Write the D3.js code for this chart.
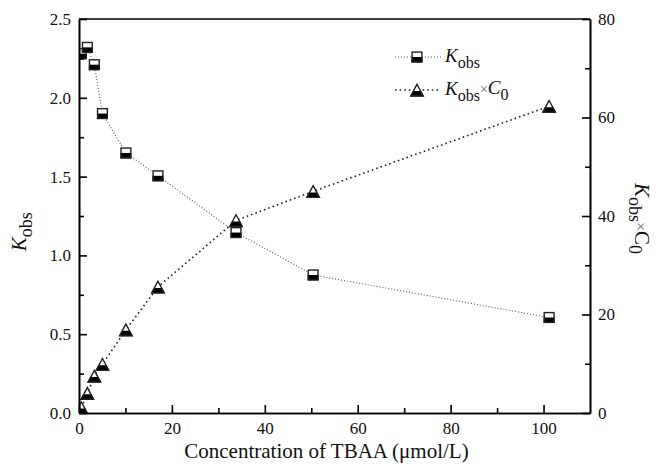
<!DOCTYPE html>
<html>
<head>
<meta charset="utf-8">
<script src="https://cdn.jsdelivr.net/npm/d3@7"></script>
<style>
  body { margin: 0; background: #fff; }
  svg { font-family: "Liberation Serif", "Times New Roman", serif; }
  .axis path, .axis line { stroke: #000; stroke-width: 1.6; }
  .axis text { font-size: 17px; fill: #111; font-family: "Liberation Serif", serif; }
</style>
</head>
<body>
<div id="chart"></div>
<script>
// data
const conc = [0.5, 1.8, 3.3, 5.05, 10.1, 17.0, 33.8, 50.4, 101.2];
const kobs = [2.28, 2.32, 2.21, 1.90, 1.65, 1.505, 1.145, 0.876, 0.606];
const kobsC0 = [1.1, 4.0, 7.5, 9.9, 16.9, 25.6, 39.1, 45.0, 62.3];
const xTicks = [0, 20, 40, 60, 80, 100];
const yLeftTicks = [0, 0.5, 1.0, 1.5, 2.0, 2.5];
const yRightTicks = [0, 20, 40, 60, 80];

const outerWidth = 658, outerHeight = 472;
const margin = {top: 19, left: 79, bottom: 59, right: 68};
const width = outerWidth - margin.left - margin.right;
const height = outerHeight - margin.top - margin.bottom;

const svg = d3.select("#chart").append("svg")
    .attr("width", outerWidth)
    .attr("height", outerHeight)
  .append("g")
    .attr("transform", `translate(${margin.left}, ${margin.top})`);

const xScale = d3.scaleLinear().domain([0, 110]).range([0, width]);
const yLeft = d3.scaleLinear().domain([0, 2.5]).range([height, 0]);
const yRight = d3.scaleLinear().domain([0, 80]).range([height, 0]);

svg.append("clipPath").attr("id", "clip")
  .append("rect").attr("width", width).attr("height", height);

// lines
const line1 = d3.line().x((d, i) => xScale(conc[i])).y(d => yLeft(d));
const line2 = d3.line().x((d, i) => xScale(conc[i])).y(d => yRight(d));

svg.append("path").datum(kobs)
    .attr("d", line1)
    .attr("fill", "none")
    .attr("stroke", "#555")
    .attr("stroke-width", 1.1)
    .attr("stroke-dasharray", "1,2");

svg.append("path").datum(kobsC0)
    .attr("d", line2)
    .attr("fill", "none")
    .attr("stroke", "#222")
    .attr("stroke-width", 1.6)
    .attr("stroke-dasharray", "1.6,3");

// markers: half-filled square and half-filled triangle
function square(g, x, y) {
    const s = 11, h = s / 2;
    g.append("rect").attr("x", x - h).attr("y", y - h).attr("width", s).attr("height", s)
        .attr("fill", "#fff").attr("stroke", "none");
    g.append("rect").attr("x", x - h).attr("y", y).attr("width", s).attr("height", h)
        .attr("fill", "#000");
    g.append("rect").attr("x", x - h + 0.6).attr("y", y - h + 0.6).attr("width", s - 1.2).attr("height", s - 1.2)
        .attr("fill", "none").attr("stroke", "#222").attr("stroke-width", 1.4);
}
function triangle(g, x, y) {
    const h = 13, w = 14;
    const top = y - h / 2, bot = y + h / 2;
    g.append("path")
        .attr("d", `M${x},${top} L${x + w / 2},${bot} L${x - w / 2},${bot} Z`)
        .attr("fill", "#fff");
    const cut = bot - h * 0.42;
    const f = (cut - top) / h;
    g.append("path")
        .attr("d", `M${x - w / 2 * f},${cut} L${x + w / 2 * f},${cut} L${x + w / 2},${bot} L${x - w / 2},${bot} Z`)
        .attr("fill", "#000");
    g.append("path")
        .attr("d", `M${x},${top + 0.8} L${x + w / 2 - 0.7},${bot - 0.5} L${x - w / 2 + 0.7},${bot - 0.5} Z`)
        .attr("fill", "none").attr("stroke", "#222").attr("stroke-width", 1.4)
        .attr("stroke-linejoin", "miter");
}

const marks = svg.append("g").attr("clip-path", "url(#clip)");
kobs.forEach((d, i) => square(marks, xScale(conc[i]), yLeft(d)));
kobsC0.forEach((d, i) => triangle(marks, xScale(conc[i]), yRight(d)));

// axes (ticks pointing inward)
function minors(ticks) {
    const out = [];
    for (let i = 0; i < ticks.length - 1; i++) out.push((ticks[i] + ticks[i + 1]) / 2);
    return out;
}

svg.append("g").attr("class", "axis")
    .attr("transform", `translate(0, ${height})`)
    .call(d3.axisBottom(xScale).tickValues(xTicks).tickSizeInner(-8).tickSizeOuter(0).tickPadding(9)
        .tickFormat(d3.format("d")));
svg.append("g").attr("class", "axis")
    .attr("transform", `translate(0, ${height})`)
    .call(d3.axisBottom(xScale).tickValues(minors(xTicks.concat([120])).filter(d => d < 110))
        .tickSizeInner(-5).tickSizeOuter(0).tickFormat(""));

svg.append("g").attr("class", "axis")
    .call(d3.axisLeft(yLeft).tickValues(yLeftTicks).tickSizeInner(-8).tickSizeOuter(0).tickPadding(8)
        .tickFormat(d3.format(".1f")));
svg.append("g").attr("class", "axis")
    .call(d3.axisLeft(yLeft).tickValues(minors(yLeftTicks)).tickSizeInner(-5).tickSizeOuter(0).tickFormat(""));

svg.append("g").attr("class", "axis")
    .attr("transform", `translate(${width}, 0)`)
    .call(d3.axisRight(yRight).tickValues(yRightTicks).tickSizeInner(-8).tickSizeOuter(0).tickPadding(8)
        .tickFormat(d3.format("d")));
svg.append("g").attr("class", "axis")
    .attr("transform", `translate(${width}, 0)`)
    .call(d3.axisRight(yRight).tickValues(minors(yRightTicks)).tickSizeInner(-5).tickSizeOuter(0).tickFormat(""));

svg.append("line")
    .attr("x1", 0).attr("x2", width).attr("y1", 0).attr("y2", 0)
    .attr("stroke", "#000").attr("stroke-width", 1.6);

svg.selectAll(".axis .domain").attr("stroke-width", 2);

// axis titles
svg.append("text")
    .attr("x", width / 2 - 8).attr("y", height + 45)
    .attr("text-anchor", "middle")
    .attr("font-size", 21)
    .attr("fill", "#111")
    .text("Concentration of TBAA (\u03bcmol/L)");

const yt = svg.append("text")
    .attr("transform", `translate(${-53}, ${yLeft(1.15)}) rotate(-90)`)
    .attr("text-anchor", "middle")
    .attr("font-size", 21)
    .attr("fill", "#111");
yt.append("tspan").attr("font-style", "italic").text("K");
yt.append("tspan").attr("font-size", 18).attr("dy", 6).text("obs");

const yr = svg.append("text")
    .attr("transform", `translate(${width + 45}, ${yRight(39.5)}) rotate(90)`)
    .attr("text-anchor", "middle")
    .attr("font-size", 21)
    .attr("fill", "#111");
yr.append("tspan").attr("font-style", "italic").text("K");
yr.append("tspan").attr("font-size", 18).attr("dy", 6).text("obs");
yr.append("tspan").attr("font-size", 16).attr("fill", "#666").attr("dy", -6).text("\u00d7");
yr.append("tspan").text("C");
yr.append("tspan").attr("font-size", 18).attr("dy", 6).text("0");

// legend
const legend = svg.append("g").attr("transform", `translate(${395 - margin.left}, 0)`);
const rows = [
    {y: 57 - margin.top, stroke: "#555", w: 1.1, dash: "1,2", mark: square, extra: false},
    {y: 90 - margin.top, stroke: "#222", w: 1.6, dash: "1.6,3", mark: triangle, extra: true}
];
rows.forEach(r => {
    legend.append("line")
        .attr("x1", 0).attr("x2", 46).attr("y1", r.y).attr("y2", r.y)
        .attr("stroke", r.stroke).attr("stroke-width", r.w).attr("stroke-dasharray", r.dash);
    r.mark(legend, 22, r.y);
    const t = legend.append("text")
        .attr("x", 50).attr("y", r.y + 5)
        .attr("font-size", 19)
        .attr("fill", "#111");
    t.append("tspan").attr("font-style", "italic").text("K");
    t.append("tspan").attr("font-size", 16).attr("dy", 6).text("obs");
    if (r.extra) {
        t.append("tspan").attr("font-size", 14).attr("fill", "#666").attr("dy", -7).text("\u00d7");
        t.append("tspan").attr("font-style", "italic").text("C");
        t.append("tspan").attr("font-size", 16).attr("dy", 6).text("0");
    }
});
</script>
</body>
</html>
